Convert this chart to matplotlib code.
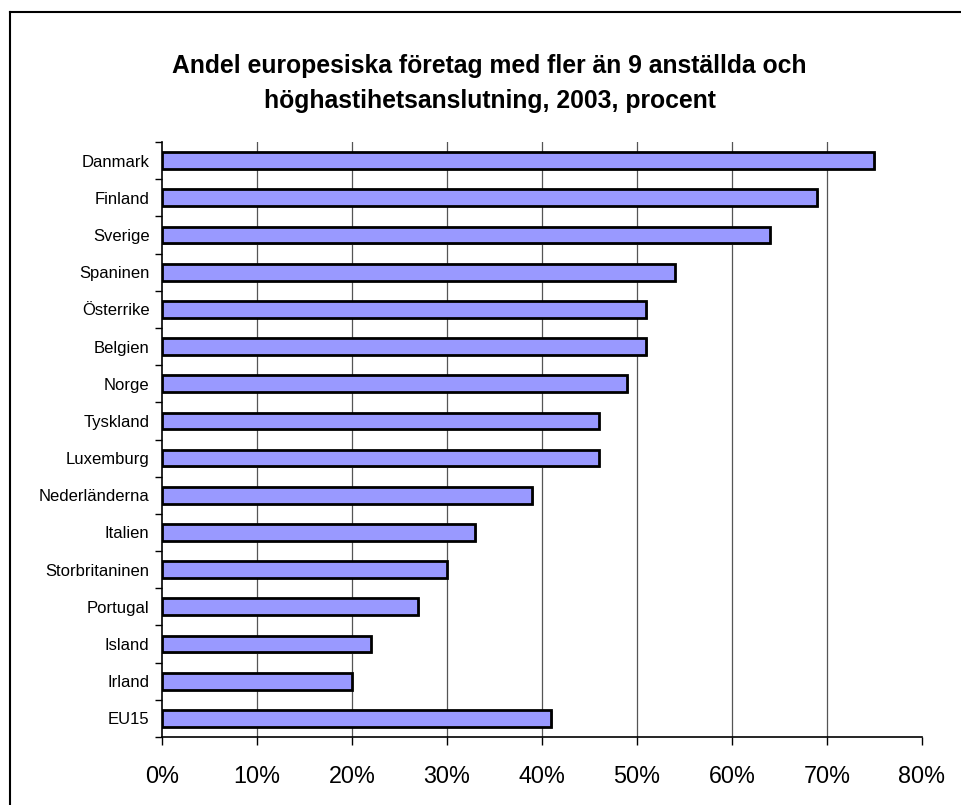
import matplotlib
matplotlib.use("Agg")
import matplotlib.pyplot as plt
import numpy as np
from matplotlib.lines import Line2D
from matplotlib.ticker import FixedLocator, FuncFormatter

plt.rcParams["font.family"] = ["Liberation Sans", "DejaVu Sans"]

countries = ["Danmark", "Finland", "Sverige", "Spaninen", "Österrike", "Belgien",
             "Norge", "Tyskland", "Luxemburg", "Nederländerna", "Italien",
             "Storbritaninen", "Portugal", "Island", "Irland", "EU15"]
shares = [75, 69, 64, 54, 51, 51, 49, 46, 46, 39, 33, 30, 27, 22, 20, 41]

fig = plt.figure(figsize=(9.62, 8.05), dpi=100)
ax = fig.add_axes([0.1684, 0.0845, 0.79, 0.739])

y = np.arange(len(countries))
# soft grey shadow, then the bars
ax.barh(y + 0.03, np.array(shares) / 100 + 0.0012, height=0.45, color="#a0a0a0",
        zorder=2, linewidth=0)
ax.barh(y, np.array(shares) / 100, height=0.45, color="#9999ff",
        edgecolor="black", linewidth=2, zorder=3)

ax.set_xlim(0, 0.8)
ax.set_ylim(len(countries) - 0.5, -0.5)
ax.set_yticks(y)
ax.set_yticklabels(countries, fontsize=12)
ax.yaxis.set_minor_locator(FixedLocator(np.arange(-0.5, len(countries), 1)))
ax.tick_params(axis="y", which="major", length=0, pad=9)
ax.tick_params(axis="y", which="minor", length=5, width=1)

ax.set_xticks(np.arange(0, 0.81, 0.1))
ax.xaxis.set_major_formatter(FuncFormatter(lambda v, p: f"{v*100:.0f}%"))
ax.tick_params(axis="x", length=6, width=1, labelsize=16.8, pad=14)

for gx in np.arange(0.1, 0.75, 0.1):
    ax.axvline(gx, color="#555555", linewidth=0.9, zorder=1)

for s in ["top", "right"]:
    ax.spines[s].set_visible(False)
ax.spines["left"].set_linewidth(1.2)
ax.spines["bottom"].set_linewidth(1.2)

fig.text(0.509, 0.896, "Andel europesiska företag med fler än 9 anställda och\n"
         "höghastihetsanslutning, 2003, procent", ha="center", va="center",
         fontsize=17.8, fontweight="bold", linespacing=1.55)

# outer chart border (top and left visible)
fig.add_artist(Line2D([10 / 962, 10 / 962], [0, 1 - 12 / 805], color="black",
                      linewidth=1.5, transform=fig.transFigure))
fig.add_artist(Line2D([10 / 962, 1], [1 - 12 / 805, 1 - 12 / 805], color="black",
                      linewidth=1.5, transform=fig.transFigure))

fig.savefig("out.png", dpi=100)
